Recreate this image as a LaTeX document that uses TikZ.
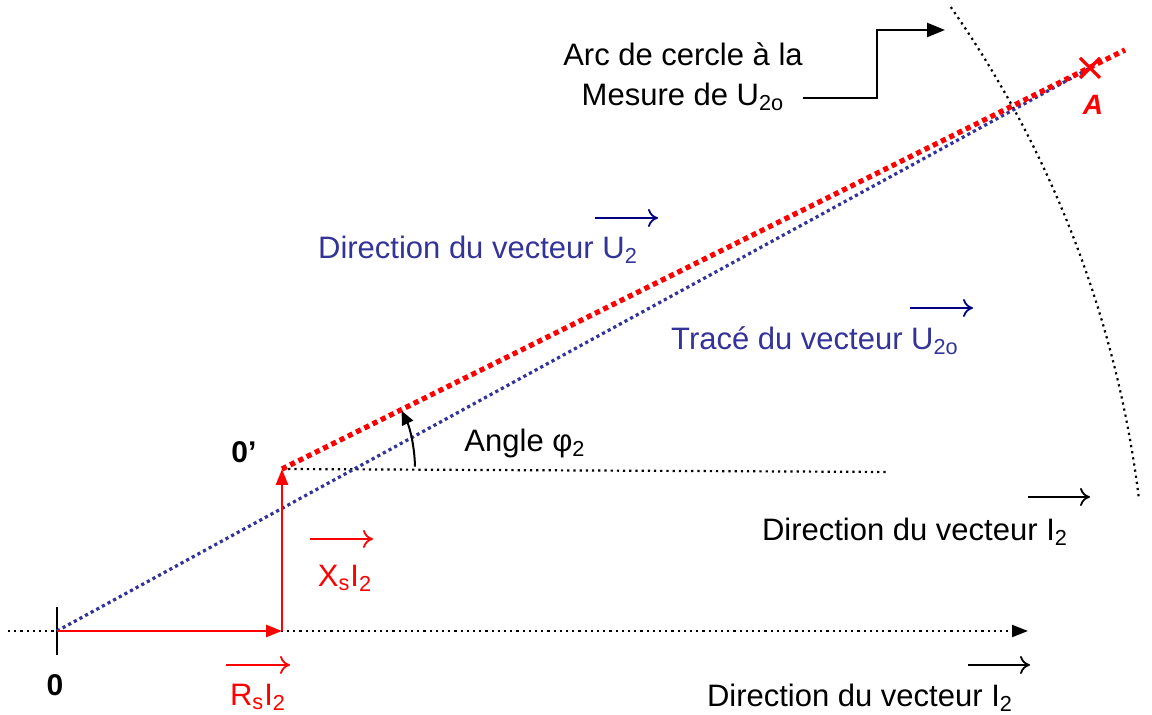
\documentclass[tikz,border=0pt]{standalone}
\usepackage{fontspec}
\setmainfont{Liberation Sans}
\usetikzlibrary{positioning,calc,arrows.meta}
\definecolor{VecBlue}{RGB}{51,51,153}
\definecolor{VecNavy}{RGB}{0,0,128}

\begin{document}
\begin{tikzpicture}[
    x=0.5pt, y=0.5pt,
    font=\fontsize{15.5}{18}\selectfont,
    axis/.style={
        black,
        line width=1.1pt,
        dotted,
        -{Triangle[length=8pt,width=6pt]}
    },
    guide/.style={
        black,
        line width=1.1pt,
        dotted
    },
    redvec/.style={
        red,
        line width=1.3pt,
        -{Triangle[length=8pt,width=6pt]}
    },
    redline/.style={
        red,
        line width=2.6pt,
        dash pattern=on 2.6pt off 2pt
    },
    blueline/.style={
        VecBlue,
        line width=1.6pt,
        dash pattern=on 1.6pt off 1.6pt
    },
    overarrow/.style={
        line width=0.9pt,
        -{To[length=5pt,width=9pt]}
    },
    lbl/.style={
        inner sep=1pt
    }
]
\useasboundingbox (0,0) rectangle (1152,715);

% points
\coordinate (O) at (57,84);
\coordinate (axisL) at (8,84);
\coordinate (axisR) at (1028,84);
\coordinate (R) at (282,84);
\coordinate (Op) at (282,246);
\coordinate (A) at (1090,647);
\coordinate (redend) at (1125,665);
\coordinate (hend) at (888,243);

% =========================
% axis and construction lines
% =========================
\draw[axis] (axisL) -- (axisR);
\draw[black, line width=0.8pt] ([yshift=-12]O) -- ([yshift=12]O);
\draw[guide] (Op) -- (hend);
\draw[guide] ([shift={(7.1:1090)}]O) arc[start angle=7.1, end angle=35, radius=1090];

\draw[blueline] (O) -- (A);
\draw[redline] (Op) -- (redend);

% vectors RsI2 and XsI2
\draw[redvec] (O) -- (R);
\draw[redvec] (R) -- (Op);

% angle phi2
\draw[black, line width=1pt, -{Triangle[length=7pt,width=6pt]}]
    ([shift={(1:133)}]Op) arc[start angle=1, end angle=26, radius=133];

% point A
\draw[red, line width=1.6pt] ([shift={(-10,-10)}]A) -- ([shift={(10,10)}]A);
\draw[red, line width=1.6pt] ([shift={(-10,10)}]A) -- ([shift={(10,-10)}]A);
\node[red, font=\fontsize{14}{17}\selectfont\bfseries\itshape] (Alab) at (1093,610) {A};

% =========================
% labels
% =========================
\node[font=\fontsize{15}{17}\selectfont\bfseries] (zero) at (55,30) {0};
\node[font=\fontsize{15}{17}\selectfont\bfseries] (zerop) at (244,263) {0’};

\node[red, lbl] (rs) at (258,18) {R\textsubscript{s}I\textsubscript{2}};
\node[red, lbl] (xs) at (345,137) {X\textsubscript{s}I\textsubscript{2}};
\coordinate (rsa) at (226,50);
\coordinate (xsa) at (310,176);
\draw[red, overarrow] (rsa) -- ++(64,0);
\draw[red, overarrow] (xsa) -- ++(63,0);

\node[lbl] (angle) at (525,272) {Angle φ\textsubscript{2}};

\node[VecBlue, lbl] (diru) at (478,465) {Direction du vecteur U\textsubscript{2}};
\coordinate (dirua) at (595,497);
\draw[VecNavy, overarrow] (dirua) -- ++(63,0);

\node[VecBlue, lbl] (trace) at (815,374) {Tracé du vecteur U\textsubscript{2o}};
\coordinate (tracea) at (910,407);
\draw[VecNavy, overarrow] (tracea) -- ++(63,0);

\node[lbl] (diri) at (915,183) {Direction du vecteur I\textsubscript{2}};
\coordinate (diria) at (1028,218);
\draw[overarrow] (diria) -- ++(62,0);

\node[lbl] (dirib) at (860,17) {Direction du vecteur I\textsubscript{2}};
\coordinate (diriba) at (968,50);
\draw[overarrow] (diriba) -- ++(62,0);

% arc callout
\node[lbl, align=center] (arctxt) at (683,638) {Arc de cercle à la\\[2pt]Mesure de U\textsubscript{2o}};
\coordinate (call1) at (803,617);
\coordinate (call2) at (945,685);
\draw[black, line width=1.2pt, -{Triangle[length=9pt,width=7pt]}]
    (call1) -- (877,617) |- (call2);

\end{tikzpicture}
\end{document}
